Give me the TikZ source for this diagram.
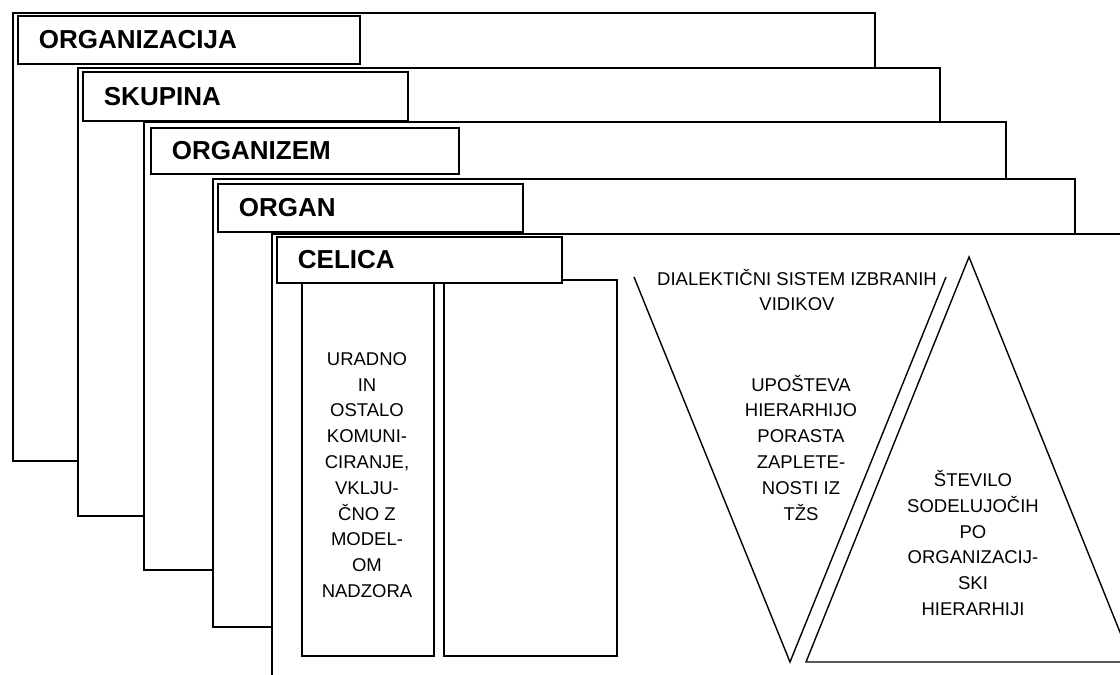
\documentclass[tikz,border=0pt]{standalone}
\usepackage{fontspec}
\setmainfont{Liberation Sans}
\usetikzlibrary{positioning}

\begin{document}
\begin{tikzpicture}[x=1pt, y=-1pt,
	levelframe/.style={draw, fill=white, line width=1.8pt, anchor=north west,
		minimum width=862pt, minimum height=448pt, inner sep=0pt},
	levelbox/.style={draw, fill=white, line width=1.8pt, anchor=north west,
		inner xsep=21pt, inner ysep=0pt, align=left,
		font=\bfseries\fontsize{26}{30}\selectfont},
	colbox/.style={draw, fill=white, line width=1.8pt, anchor=north west,
		inner sep=0pt, minimum height=376pt},
	txt/.style={align=center, inner sep=0pt, font=\fontsize{18.5}{25.8}\selectfont},
	triline/.style={line width=1.4pt, line join=miter}]
	%    page size of the reference
	\useasboundingbox (0,0) rectangle (1120,675);
	\clip (0,0) rectangle (1120,675);
	
	% nested levels, outermost first
	\node[levelframe] (organizacija) at (12,12) {};
	\node[levelbox, text width=300pt, minimum height=48pt] (organizacijaL) at (17,15) {ORGANIZACIJA};
	
	\node[levelframe] (skupina) at (77,67) {};
	\node[levelbox, text width=283pt, minimum height=49pt] (skupinaL) at (82,71) {SKUPINA};
	
	\node[levelframe] (organizem) at (143,121) {};
	\node[levelbox, text width=266pt, minimum height=46pt] (organizemL) at (150,127) {ORGANIZEM};
	
	\node[levelframe] (organ) at (212,178) {};
	\node[levelbox, text width=263pt, minimum height=48pt] (organL) at (217,183) {ORGAN};
	
	\node[levelframe] (celica) at (271,233) {};
	
	% two columns inside the cell
	\node[colbox, minimum width=132pt] (uradno) at (301,279) {};
	\node[txt] (uradnoT) at (367,475) {URADNO\\IN\\OSTALO\\KOMUNI-\\CIRANJE,\\VKLJU-\\ČNO Z\\MODEL-\\OM\\NADZORA};
	\node[colbox, minimum width=173pt] (prazno) at (443,279) {};
	
	\node[levelbox, text width=243pt, minimum height=46pt] (celicaL) at (276,236) {CELICA};
	
	% open V and the triangle
	\coordinate (vL) at (634,277);
	\coordinate (vB) at (790,662);
	\coordinate (vR) at (946,277);
	\draw[triline] (vL) -- (vB) -- (vR);
	
	\coordinate (tA) at (969,257);
	\coordinate (tL) at (806,662);
	\coordinate (tR) at (1132,662);
	\draw[triline] (tA) -- (tL) -- (tR) -- cycle;
	
	\node[txt] (vidiki) at (797,290) {DIALEKTIČNI SISTEM IZBRANIH\\VIDIKOV};
	\node[txt] (upostevaT) at (801,447.5) {UPOŠTEVA\\HIERARHIJO\\PORASTA\\ZAPLETE-\\NOSTI IZ\\TŽS};
	\node[txt] (steviloT) at (973,543) {ŠTEVILO\\SODELUJOČIH\\PO\\ORGANIZACIJ-\\SKI\\HIERARHIJI};
	
\end{tikzpicture}
\end{document}
